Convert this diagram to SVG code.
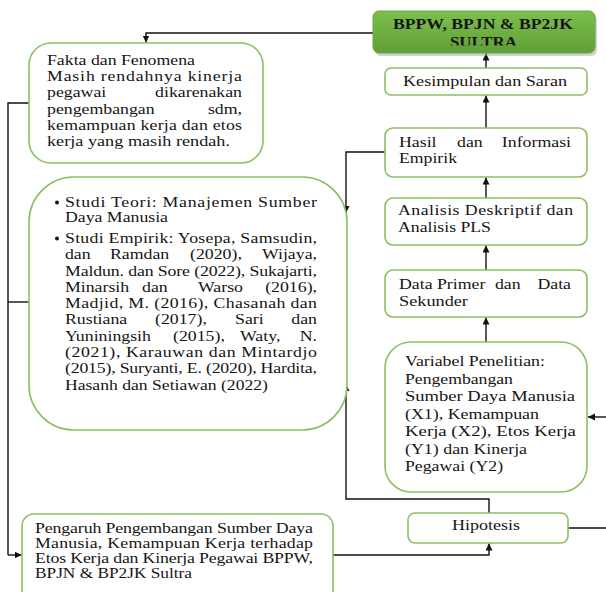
<svg xmlns="http://www.w3.org/2000/svg" width="606" height="592" viewBox="0 0 606 592">
<style>
.box{fill:#fff;stroke:#8cc063;stroke-width:1.6}
.t{font-family:"Liberation Serif","Times New Roman",serif;font-size:14px;fill:#151515}
.b{font-weight:bold}
.ln{fill:none;stroke:#111;stroke-width:1.4}
.arr{fill:none;stroke:#111;stroke-width:1.4;marker-end:url(#ah)}
</style>
<defs>
<marker id="ah" markerUnits="userSpaceOnUse" markerWidth="8" markerHeight="8" refX="7" refY="3.5" orient="auto">
<path d="M0,0 L7,3.5 L0,7 z" fill="#111"/>
</marker>
<linearGradient id="gg" x1="0" y1="0" x2="0" y2="1">
<stop offset="0" stop-color="#7dbf4e"/>
<stop offset="1" stop-color="#5f9f36"/>
</linearGradient>
<clipPath id="cf"><rect x="0" y="0" width="606" height="149.5"/></clipPath>
<clipPath id="cs"><rect x="0" y="0" width="606" height="45.5"/></clipPath>
</defs>

<g id="connectors">
<path class="arr" d="M373,33 H146 V42.5"/>
<path class="arr" d="M486,68 V53.5"/>
<path class="arr" d="M486,128 V95.5"/>
<path class="arr" d="M486,198 V177.5"/>
<path class="arr" d="M486,270 V245.5"/>
<path class="arr" d="M486,342 V317.5"/>
<path class="arr" d="M385,152 H346 V213"/>
<path class="arr" d="M489,513 V499 H346 V384"/>
<path class="arr" d="M333,555 H489 V543.5"/>
<path class="ln" d="M568,528 H606"/>
<path class="arr" d="M606,417 H588"/>
<path class="ln" d="M29,103 H8 V555"/>
<path class="ln" d="M29,302 H8"/>
<path class="arr" d="M8,555 H21.5"/>
</g>

<g id="bppw">
<rect x="375" y="14" width="222" height="42" rx="6" fill="#9a9a9a" opacity="0.45"/>
<rect x="373" y="11" width="222" height="42" rx="6" fill="url(#gg)" stroke="#6aa540" stroke-width="1"/>
<g transform="scale(1.27,1)">
<text class="t b" x="380.3" y="29" text-anchor="middle" textLength="141.7" lengthAdjust="spacingAndGlyphs">BPPW, BPJN &amp; BP2JK</text>
<text class="t b" x="380.7" y="47.5" text-anchor="middle" textLength="52.8" lengthAdjust="spacingAndGlyphs" clip-path="url(#cs)">SULTRA</text>
</g>
</g>

<g id="kesimpulan">
<rect class="box" x="385" y="68" width="202" height="27" rx="6"/>
<g transform="scale(1.27,1)">
<text class="t" x="381.9" y="86" text-anchor="middle" textLength="129.1" lengthAdjust="spacingAndGlyphs">Kesimpulan dan Saran</text>
</g>
</g>

<g id="hasil">
<rect class="box" x="385" y="128" width="202" height="49" rx="8"/>
<g transform="scale(1.27,1)">
<text class="t" y="147"><tspan x="314.17">Hasil</tspan><tspan x="359.84">dan</tspan></text>
<text class="t" x="449.61" y="147" text-anchor="end">Informasi</text>
<text class="t" x="314.17" y="163" textLength="45.7" lengthAdjust="spacingAndGlyphs">Empirik</text>
</g>
</g>

<g id="analisis">
<rect class="box" x="385" y="198" width="202" height="47" rx="8"/>
<g transform="scale(1.27,1)">
<text class="t" x="313.4" y="215.5" textLength="137.8" lengthAdjust="spacing">Analisis  Deskriptif dan</text>
<text class="t" x="313.4" y="232.5" textLength="73.2" lengthAdjust="spacingAndGlyphs">Analisis PLS</text>
</g>
</g>

<g id="data">
<rect class="box" x="385" y="270" width="202" height="47" rx="8"/>
<g transform="scale(1.27,1)">
<text class="t" y="289"><tspan x="314.17">Data</tspan><tspan x="344.09">Primer</tspan><tspan x="389.76">dan</tspan></text>
<text class="t" x="449.61" y="289" text-anchor="end">Data</text>
<text class="t" x="314.17" y="306.5" textLength="54.3" lengthAdjust="spacingAndGlyphs">Sekunder</text>
</g>
</g>

<g id="variabel">
<rect class="box" x="385" y="342" width="202" height="150" rx="26"/>
<g transform="scale(1.27,1)">
<text class="t" x="318.9" y="366" textLength="110.2" lengthAdjust="spacingAndGlyphs">Variabel Penelitian:</text>
<text class="t" x="318.9" y="384" textLength="85" lengthAdjust="spacingAndGlyphs">Pengembangan</text>
<text class="t" x="318.9" y="401.5" textLength="133.9" lengthAdjust="spacingAndGlyphs">Sumber Daya Manusia</text>
<text class="t" x="318.9" y="419" textLength="105.5" lengthAdjust="spacingAndGlyphs">(X1), Kemampuan</text>
<text class="t" x="318.9" y="436.5" textLength="134.6" lengthAdjust="spacingAndGlyphs">Kerja (X2), Etos Kerja</text>
<text class="t" x="318.9" y="454" textLength="96.1" lengthAdjust="spacingAndGlyphs">(Y1) dan Kinerja</text>
<text class="t" x="318.9" y="471.5" textLength="77.2" lengthAdjust="spacingAndGlyphs">Pegawai  (Y2)</text>
</g>
</g>

<g id="hipotesis">
<rect class="box" x="408" y="513" width="160" height="30" rx="7"/>
<g transform="scale(1.27,1)">
<text class="t" x="382.68" y="530" text-anchor="middle" textLength="53.5" lengthAdjust="spacingAndGlyphs">Hipotesis</text>
</g>
</g>

<g id="fakta">
<rect class="box" x="29" y="43" width="234" height="120" rx="22"/>
<g transform="scale(1.27,1)">
<text class="t" x="37.01" y="65" textLength="116.5" lengthAdjust="spacingAndGlyphs">Fakta dan Fenomena</text>
<text class="t" x="37.01" y="81.5" textLength="153.54" lengthAdjust="spacing">Masih rendahnya kinerja</text>
<text class="t" x="37.01" y="97.5">pegawai</text>
<text class="t" x="190.55" y="97.5" text-anchor="end">dikarenakan</text>
<text class="t" x="37.01" y="114">pengembangan</text>
<text class="t" x="190.55" y="114" text-anchor="end">sdm,</text>
<text class="t" x="37.01" y="130" textLength="153.54" lengthAdjust="spacing">kemampuan kerja dan etos</text>
<text class="t" x="37.01" y="146.5" textLength="144.1" lengthAdjust="spacingAndGlyphs" clip-path="url(#cf)">kerja yang masih rendah.</text>
</g>
</g>

<g id="studi">
<rect class="box" x="29" y="177" width="318" height="253" rx="45"/>
<circle cx="57" cy="202.5" r="2" fill="#151515"/>
<circle cx="57" cy="238.5" r="2" fill="#151515"/>
<g transform="scale(1.27,1)">
<text class="t" x="51.18" y="207" textLength="198.43" lengthAdjust="spacing">Studi Teori: Manajemen Sumber</text>
<text class="t" x="51.18" y="222" textLength="81.1" lengthAdjust="spacingAndGlyphs">Daya Manusia</text>
<text class="t" x="51.18" y="243" textLength="198.43" lengthAdjust="spacing">Studi Empirik: Yosepa, Samsudin,</text>
<text class="t" y="259.3"><tspan x="51.18">dan</tspan><tspan x="86.61">Ramdan</tspan><tspan x="149.61">(2020),</tspan></text>
<text class="t" x="249.61" y="259.3" text-anchor="end">Wijaya,</text>
<text class="t" x="51.18" y="275.6" textLength="198.43" lengthAdjust="spacing">Maldun. dan Sore (2022), Sukajarti,</text>
<text class="t" y="291.9"><tspan x="51.18">Minarsih</tspan><tspan x="111.81">dan</tspan><tspan x="155.91">Warso</tspan></text>
<text class="t" x="249.61" y="291.9" text-anchor="end">(2016),</text>
<text class="t" x="51.18" y="308.2" textLength="198.43" lengthAdjust="spacing">Madjid, M. (2016), Chasanah dan</text>
<text class="t" y="324.5"><tspan x="51.18">Rustiana</tspan><tspan x="122.05">(2017),</tspan><tspan x="185.04">Sari</tspan></text>
<text class="t" x="249.61" y="324.5" text-anchor="end">dan</text>
<text class="t" y="340.8"><tspan x="51.18">Yuniningsih</tspan><tspan x="136.22">(2015),</tspan><tspan x="188.98">Waty,</tspan></text>
<text class="t" x="249.61" y="340.8" text-anchor="end">N.</text>
<text class="t" x="51.18" y="357.1" textLength="198.43" lengthAdjust="spacing">(2021), Karauwan dan Mintardjo</text>
<text class="t" x="51.18" y="373.4" textLength="198.43" lengthAdjust="spacing">(2015), Suryanti, E. (2020), Hardita,</text>
<text class="t" x="51.18" y="389.7" textLength="159.8" lengthAdjust="spacingAndGlyphs">Hasanh dan Setiawan (2022)</text>
</g>
</g>

<g id="pengaruh">
<rect class="box" x="22" y="514" width="311" height="90" rx="12"/>
<g transform="scale(1.27,1)">
<text class="t" x="27.56" y="533.5" textLength="218.9" lengthAdjust="spacing">Pengaruh Pengembangan Sumber Daya</text>
<text class="t" x="27.56" y="548.5" textLength="218.9" lengthAdjust="spacing">Manusia, Kemampuan Kerja  terhadap</text>
<text class="t" x="27.56" y="563.5" textLength="218.9" lengthAdjust="spacing">Etos Kerja dan Kinerja Pegawai BPPW,</text>
<text class="t" x="27.56" y="578.5" textLength="123.6" lengthAdjust="spacingAndGlyphs">BPJN  &amp; BP2JK  Sultra</text>
</g>
</g>
</svg>
